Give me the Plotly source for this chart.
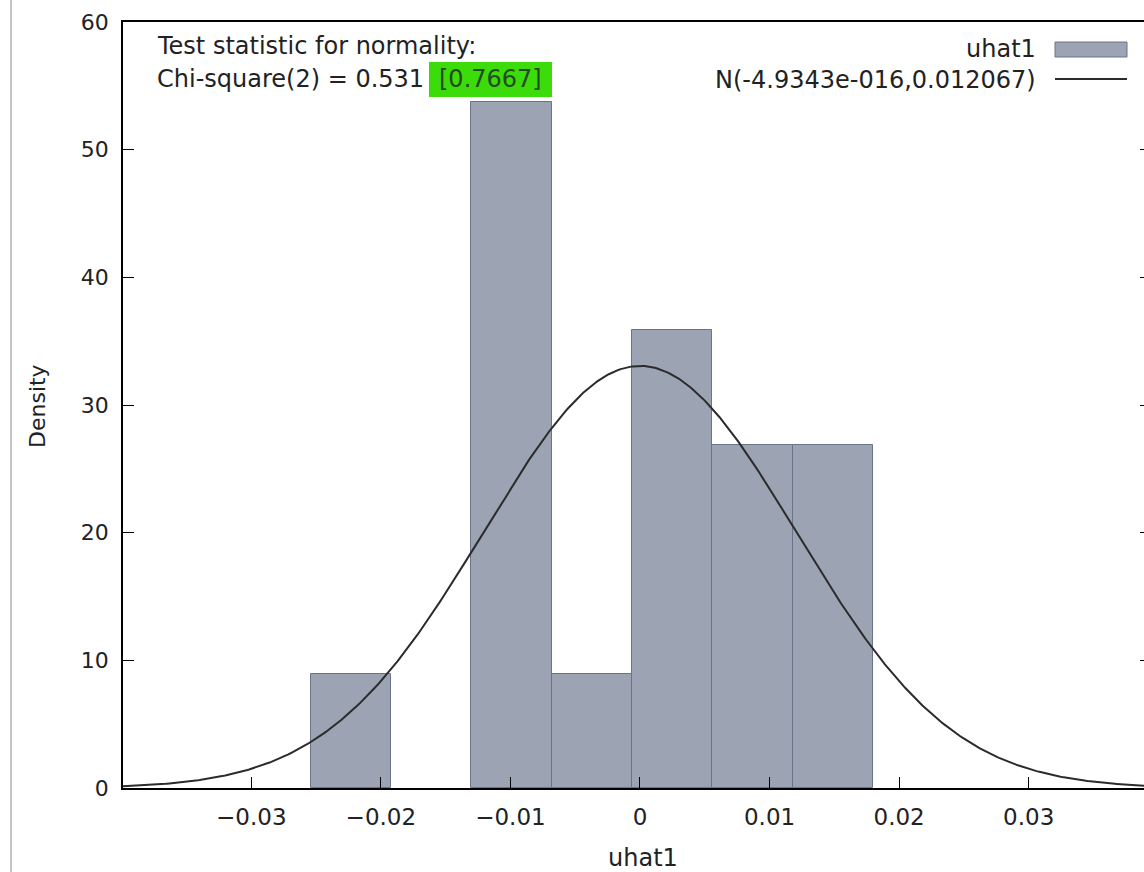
import numpy as np
import plotly.graph_objects as go

# Histogram of residuals uhat1 (density scale), bin layout
bin_width = 0.0062
bin_left = [-0.02541, -0.01301, -0.00681, -0.00061, 0.00559, 0.01179]
density = [8.96, 53.76, 8.96, 35.84, 26.88, 26.88]

# Fitted normal distribution
norm_mean = -4.9343e-016
norm_sd = 0.012067

x_ticks = [-0.03, -0.02, -0.01, 0, 0.01, 0.02, 0.03]
x_tick_text = ["\u22120.03", "\u22120.02", "\u22120.01", "0", "0.01", "0.02", "0.03"]
y_ticks = [0, 10, 20, 30, 40, 50, 60]

x_range = [-0.0399, 0.0389]
y_range = [0, 60]

FONT = "DejaVu Sans"
TXT = "#222222"
BAR_FILL = "#9ca3b3"
BAR_EDGE = "#6a7488"
CURVE = "#2b2b2b"

# plot-area geometry in pixels, used to place the overlay texts
W, H = 1144, 872
L, T, B = 123, 22, 84
PW, PH = W - L, H - T - B


def px(xpix):
    return (xpix - L) / PW


def py(ypix):
    return (H - B - ypix) / PH


centers = [b + bin_width / 2 for b in bin_left]

xs = np.linspace(x_range[0], x_range[1], 600)
pdf = np.exp(-0.5 * ((xs - norm_mean) / norm_sd) ** 2) / (norm_sd * np.sqrt(2 * np.pi))

fig = go.Figure()
fig.add_trace(go.Bar(
    x=centers, y=density, width=[bin_width] * len(centers),
    marker=dict(color=BAR_FILL, line=dict(color=BAR_EDGE, width=1)),
    showlegend=False, hoverinfo="skip",
))
fig.add_trace(go.Scatter(
    x=xs, y=pdf, mode="lines",
    line=dict(color=CURVE, width=2),
    showlegend=False, hoverinfo="skip",
))
# carrier for the right-hand tick axis
fig.add_trace(go.Scatter(
    x=[x_range[0]], y=[0], yaxis="y2", mode="markers",
    marker=dict(opacity=0), showlegend=False, hoverinfo="skip",
))

tick_style = dict(ticks="inside", ticklen=11, tickwidth=1, tickcolor="#000000")

fig.update_layout(
    width=W, height=H,
    margin=dict(l=L, r=0, t=T, b=B),
    paper_bgcolor="white", plot_bgcolor="white",
    bargap=0,
    xaxis=dict(range=x_range, tickvals=x_ticks, ticktext=x_tick_text,
               showgrid=False, zeroline=False, showline=True,
               linecolor="#000000", linewidth=1.5, mirror=True,
               ticklabelstandoff=8,
               tickfont=dict(family=FONT, size=23, color=TXT), **tick_style),
    yaxis=dict(range=y_range, tickvals=y_ticks,
               showgrid=False, zeroline=False, showline=True,
               linecolor="#000000", linewidth=1.5, mirror=False,
               ticklabelstandoff=8,
               tickfont=dict(family=FONT, size=22, color=TXT), **tick_style),
    yaxis2=dict(range=y_range, tickvals=y_ticks[1:-1], overlaying="y",
                side="right", showgrid=False, zeroline=False, showline=False,
                showticklabels=False, ticks="inside", ticklen=4, tickwidth=1,
                tickcolor="#000000"),
    font=dict(family=FONT, color=TXT),
)

annotations = [
    dict(x=px(155), y=py(46), text="Test statistic for normality:",
         xanchor="left", yanchor="middle", font=dict(size=24)),
    dict(x=px(155), y=py(79), text="Chi-square(2) = 0.531",
         xanchor="left", yanchor="middle", font=dict(size=24)),
    dict(x=px(490), y=py(79), text="[0.7667]",
         xanchor="center", yanchor="middle", font=dict(size=24, color="#254a25")),
    dict(x=px(1038), y=py(49), text="uhat1",
         xanchor="right", yanchor="middle", font=dict(size=24)),
    dict(x=px(1038), y=py(80), text="N(-4.9343e-016,0.012067)",
         xanchor="right", yanchor="middle", font=dict(size=24)),
    dict(x=px(37), y=py(406), text="Density", textangle=-90,
         xanchor="center", yanchor="middle", font=dict(size=22)),
    dict(x=px(643), y=py(858), text="uhat1",
         xanchor="center", yanchor="middle", font=dict(size=24)),
]
for a in annotations:
    a.update(xref="paper", yref="paper", showarrow=False)
    a["font"].setdefault("family", FONT)
    a["font"].setdefault("color", TXT)
fig.update_layout(annotations=annotations)

shapes = [
    # highlighted p-value
    dict(type="rect", x0=px(429), x1=px(552), y0=py(97), y1=py(62),
         fillcolor="#3cdc0a", line=dict(width=0), layer="above"),
    # legend swatch for the histogram
    dict(type="rect", x0=px(1055), x1=px(1127), y0=py(57), y1=py(42),
         fillcolor=BAR_FILL, line=dict(color=BAR_EDGE, width=1)),
    # legend sample for the normal curve
    dict(type="line", x0=px(1055), x1=px(1127), y0=py(79), y1=py(79),
         line=dict(color=CURVE, width=2)),
    # window border on the far left
    dict(type="line", x0=px(11), x1=px(11), y0=py(0), y1=py(872),
         line=dict(color="#8a8a8a", width=1)),
]
for s in shapes:
    s.update(xref="paper", yref="paper")
fig.update_layout(shapes=shapes)

fig.write_html("out.html")
